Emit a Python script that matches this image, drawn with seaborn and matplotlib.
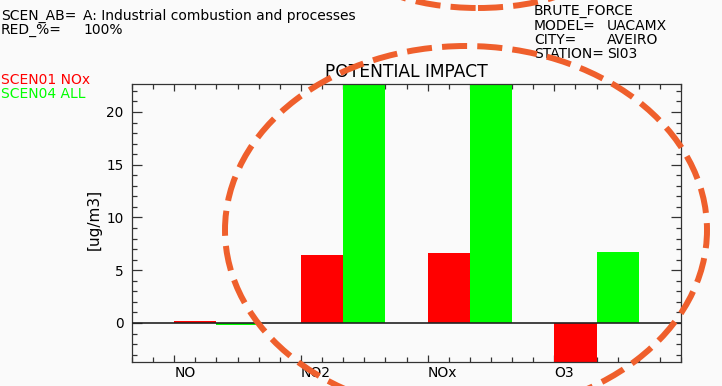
import numpy as np
import pandas as pd
import seaborn as sns
import matplotlib
matplotlib.use("Agg")
import matplotlib.pyplot as plt
from matplotlib.patches import Ellipse
from matplotlib.ticker import FixedLocator, MultipleLocator

# ---- data -------------------------------------------------------------
pollutants = ["NO", "NO2", "NOx", "O3"]
scen01_nox = [0.2, 6.4, 6.6, -4.0]      # SCEN01 NOx
scen04_all = [-0.15, 24.0, 24.0, 6.7]   # SCEN04 ALL
scenario_names = ["SCEN01 NOx", "SCEN04 ALL"]
y_ticks = [0, 5, 10, 15, 20]

df = pd.DataFrame({
    "pollutant": pollutants * 2,
    "scenario": [scenario_names[0]] * 4 + [scenario_names[1]] * 4,
    "value": scen01_nox + scen04_all,
})

RED = "#FF0000"
GREEN = "#00FF00"
BG = "#FAFAFA"
AXC = "#333333"

sns.set_style("ticks")
plt.rcParams["font.family"] = ["DejaVu Sans"]
plt.rcParams.update({"text.color": "black", "axes.labelcolor": "black",
                     "xtick.labelcolor": "black", "ytick.labelcolor": "black"})

W, H = 722, 386
fig = plt.figure(figsize=(W / 100, H / 100), dpi=100, facecolor=BG)
ax = fig.add_axes([132 / W, 1 - 362 / H, (681 - 132) / W, (362 - 84) / H])
ax.set_facecolor(BG)

sns.barplot(data=df, x="pollutant", y="value", hue="scenario",
            palette=[RED, GREEN], width=2 / 3, saturation=1,
            errorbar=None, legend=False, ax=ax, linewidth=0)

ax.axhline(0, color="#222222", lw=1.2, zorder=3)
ax.set_xlim(-2 / 3, 11 / 3)
ax.set_ylim(-3.7, 22.65)

# x ticks: labels left-aligned at the start of each pair of bars
n = len(pollutants)
ax.xaxis.set_major_locator(FixedLocator([i - 1 / 3 for i in range(n)]))
ax.set_xticklabels(pollutants, ha="left", fontsize=10)
ax.xaxis.set_minor_locator(FixedLocator([-2 / 3 + k / 6 for k in range(27)]))
ax.yaxis.set_major_locator(FixedLocator(y_ticks))
ax.yaxis.set_minor_locator(MultipleLocator(1))
ax.tick_params(axis="y", labelsize=9.8)

ax.tick_params(which="both", direction="in", top=True, right=True,
               color=AXC, width=0.9, labelcolor="black")
ax.tick_params(axis="x", which="major", length=5, pad=3)
ax.tick_params(axis="x", which="minor", length=3.5)
ax.tick_params(axis="y", which="major", length=7, pad=6)
ax.tick_params(axis="y", which="minor", length=3.5)
for s in ax.spines.values():
    s.set_color(AXC)
    s.set_linewidth(0.9)

ax.set_xlabel("")
ax.set_ylabel("[ug/m3]", fontsize=11, color="black")
ax.yaxis.set_label_coords(-0.055, 0.514)
ax.set_title("POTENTIAL IMPACT", fontsize=12.3, pad=5, color="black")

# ---- header text --------------------------------------------------------
def px(x, y):
    return x / W, 1 - y / H

kw = dict(fontsize=10, va="top", ha="left", linespacing=1.02,
          color="black", transform=fig.transFigure)
fig.text(*px(1, 9), "SCEN_AB=\nRED_%=", **kw)
fig.text(*px(83, 9), "A: Industrial combustion and processes\n100%", **kw)

kl = dict(fontsize=10, va="baseline", ha="left", transform=fig.transFigure)
fig.text(*px(534, 15), "BRUTE_FORCE", color="black", **kl)
fig.text(*px(534, 18.5), "MODEL=\nCITY=\nSTATION=", **kw)
fig.text(*px(607, 18.5), "UACAMX\nAVEIRO\nSI03", **kw)

fig.text(*px(1, 84), scenario_names[0], color=RED, **kl)
fig.text(*px(1, 98), scenario_names[1], color=GREEN, **kl)

# ---- highlight ellipses ---------------------------------------------------
ORANGE = "#EF5F2C"
dash = (0, (4.2, 1.7))
fig.add_artist(Ellipse(px(466, 230), 482 / W, 368 / H, fill=False,
                       edgecolor=ORANGE, lw=4.3, linestyle=dash,
                       transform=fig.transFigure, clip_on=False, zorder=10))
fig.add_artist(Ellipse(px(478, -40), 242 / W, 96 / H, fill=False,
                       edgecolor=ORANGE, lw=4.3, linestyle=dash,
                       transform=fig.transFigure, clip_on=False, zorder=10))

fig.savefig("out.png", dpi=100, facecolor=BG)
